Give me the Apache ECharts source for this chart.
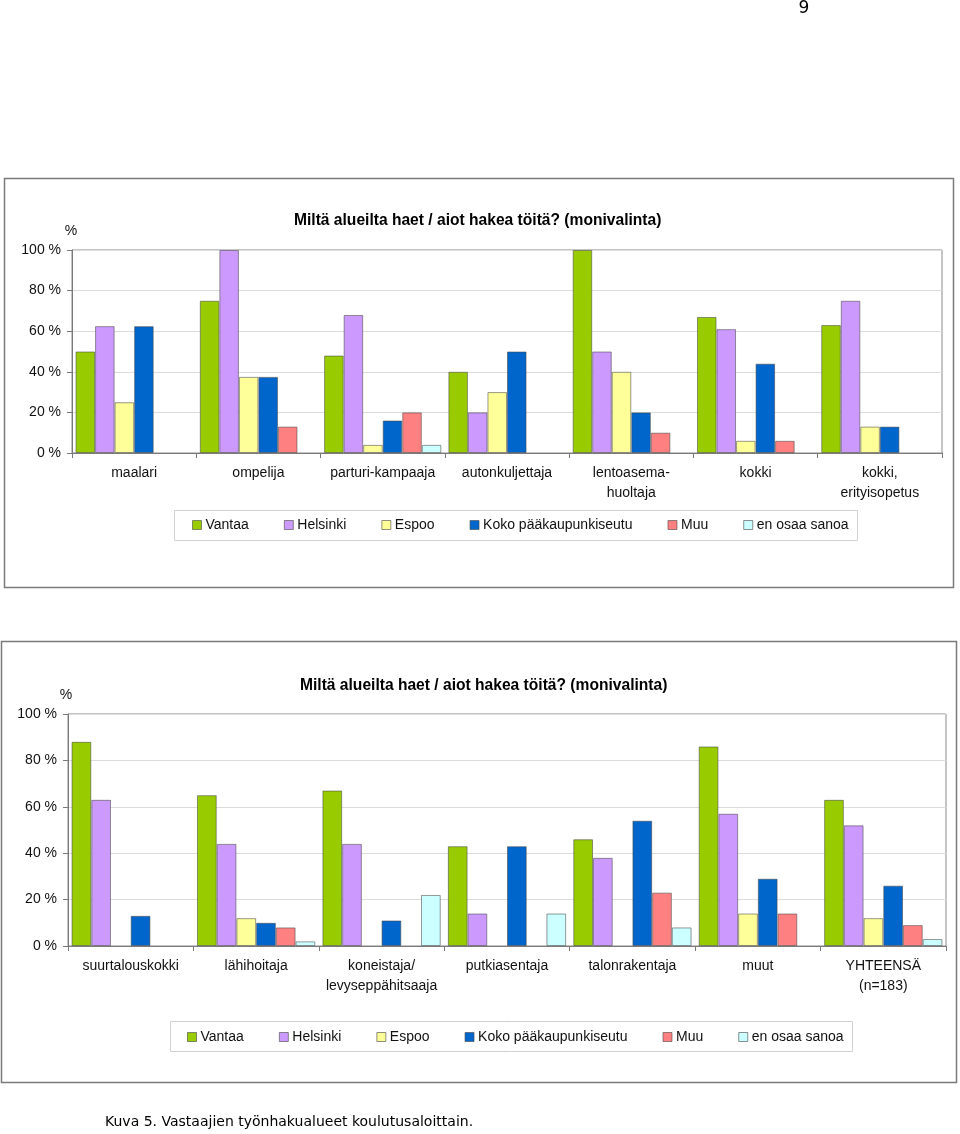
<!DOCTYPE html>
<html><head><meta charset="utf-8">
<script src="https://cdn.jsdelivr.net/npm/echarts@6/dist/echarts.min.js"></script>
<style>html,body{margin:0;padding:0;background:#fff}#c{width:960px;height:1134px}</style>
</head><body><div id="c"></div>
<script>
const seriesNames = ['Vantaa','Helsinki','Espoo','Koko pääkaupunkiseutu','Muu','en osaa sanoa'];
const seriesColors = ['#99CC00','#CC99FF','#FFFF99','#0066CC','#FF8080','#CCFFFF'];
const yTicks = [0,20,40,60,80,100];

const categories1 = ['maalari','ompelija','parturi-kampaaja','autonkuljettaja','lentoasema-\nhuoltaja','kokki','kokki,\nerityisopetus'];
const vantaa1   = [50, 75, 48, 40, 100, 67, 63];
const helsinki1 = [62.5, 100, 68, 20, 50, 61, 75];
const espoo1    = [25, 37.5, 4, 30, 40, 6, 13];
const koko1     = [62.5, 37.5, 16, 50, 20, 44, 13];
const muu1      = [0, 13, 20, 0, 10, 6, 0];
const eos1      = [0, 0, 4, 0, 0, 0, 0];

const categories2 = ['suurtalouskokki','lähihoitaja','koneistaja/\nlevyseppähitsaaja','putkiasentaja','talonrakentaja','muut','YHTEENSÄ\n(n=183)'];
const vantaa2   = [88, 65, 67, 43, 46, 86, 63];
const helsinki2 = [63, 44, 44, 14, 38, 57, 52];
const espoo2    = [0, 12, 0, 0, 0, 14, 12];
const koko2     = [13, 10, 11, 43, 54, 29, 26];
const muu2      = [0, 8, 0, 0, 23, 14, 9];
const eos2      = [0, 2, 22, 14, 8, 0, 3];

const titleText = 'Miltä alueilta haet / aiot hakea töitä? (monivalinta)';
const FONT = 'Liberation Sans, Arial, sans-serif';

const data1 = [vantaa1, helsinki1, espoo1, koko1, muu1, eos1];
const data2 = [vantaa2, helsinki2, espoo2, koko2, muu2, eos2];

function mkX(idx, cats){
  return {
    type:'category', gridIndex:idx, data:cats,
    axisLine:{lineStyle:{color:'#7a7a7a', width:1}},
    axisTick:{show:true, length:5, lineStyle:{color:'#7a7a7a'}},
    axisLabel:{color:'#111', fontFamily:FONT, fontSize:14, lineHeight:20, margin:10, interval:0}
  };
}
function mkY(idx){
  return {
    type:'value', gridIndex:idx, min:0, max:100, interval:20,
    axisLine:{show:true, lineStyle:{color:'#7a7a7a', width:1}},
    axisTick:{show:true, length:5, lineStyle:{color:'#7a7a7a'}},
    axisLabel:{color:'#111', fontFamily:FONT, fontSize:14, margin:11, formatter:'{value} %'},
    splitLine:{lineStyle:{color:'#dcdcdc', width:1}}
  };
}
const series = [];
[data1, data2].forEach((set, gi) => {
  set.forEach((arr, si) => {
    series.push({
      type:'bar', name:seriesNames[si], xAxisIndex:gi, yAxisIndex:gi,
      data:arr.map(v => v === 0 ? null : v), barGap:'0%', barCategoryGap:'5.7%',
      itemStyle:{color:seriesColors[si], borderColor:'rgba(70,70,70,0.55)', borderWidth:1},
      emphasis:{disabled:true}, animation:false
    });
  });
});

function mkLegend(top, left){
  return {
    data:seriesNames, top:top, left:left, padding:0, itemGap:35,
    itemWidth:9, itemHeight:9, icon:'rect', selectedMode:false,
    textStyle:{fontFamily:FONT, fontSize:14, color:'#111', padding:[0,0,0,-1]},
    itemStyle:{borderColor:'rgba(70,70,70,0.6)', borderWidth:1}
  };
}

const chart = echarts.init(document.getElementById('c'), null, {renderer:'canvas'});
chart.setOption({
  backgroundColor:'#fff',
  animation:false,
  title:[
    {text:titleText, left:294, top:213, padding:0, textStyle:{fontFamily:FONT, fontSize:15.6, fontWeight:'bold', color:'#000'}},
    {text:titleText, left:300, top:678, padding:0, textStyle:{fontFamily:FONT, fontSize:15.6, fontWeight:'bold', color:'#000'}}
  ],
  grid:[
    {left:72, right:18, top:250, height:203, show:true, borderColor:'#8a8a8a', borderWidth:1, backgroundColor:'transparent'},
    {left:68, right:14, top:714, height:232, show:true, borderColor:'#8a8a8a', borderWidth:1, backgroundColor:'transparent'}
  ],
  xAxis:[mkX(0, categories1), mkX(1, categories2)],
  yAxis:[mkY(0), mkY(1)],
  legend:[mkLegend(518, 192), mkLegend(1030, 187)],
  series:series,
  graphic:[
    {type:'rect', shape:{x:4.5, y:178.5, width:949, height:409}, style:{fill:null, stroke:'#7a7a7a', lineWidth:1.5}, silent:true, z:-1},
    {type:'rect', shape:{x:1.5, y:641.5, width:955, height:441}, style:{fill:null, stroke:'#7a7a7a', lineWidth:1.5}, silent:true, z:-1},
    {type:'rect', shape:{x:174.5, y:510.5, width:683, height:30}, style:{fill:null, stroke:'#d0d0d0', lineWidth:1}, silent:true, z:-1},
    {type:'rect', shape:{x:170.5, y:1021.5, width:682, height:30}, style:{fill:null, stroke:'#d0d0d0', lineWidth:1}, silent:true, z:-1},
    {type:'text', x:71, y:231, style:{text:'%', font:'14px '+FONT, fill:'#111', textAlign:'center', textVerticalAlign:'middle'}},
    {type:'text', x:66, y:695, style:{text:'%', font:'14px '+FONT, fill:'#111', textAlign:'center', textVerticalAlign:'middle'}},
    {type:'text', x:804, y:9, style:{text:'9', font:'17px DejaVu Sans, sans-serif', fill:'#000', textAlign:'center', textVerticalAlign:'middle'}},
    {type:'text', x:105, y:1122, style:{text:'Kuva 5. Vastaajien työnhakualueet koulutusaloittain.', font:'14px DejaVu Sans, sans-serif', fill:'#000', textAlign:'left', textVerticalAlign:'middle'}}
  ]
});
</script>
</body></html>
